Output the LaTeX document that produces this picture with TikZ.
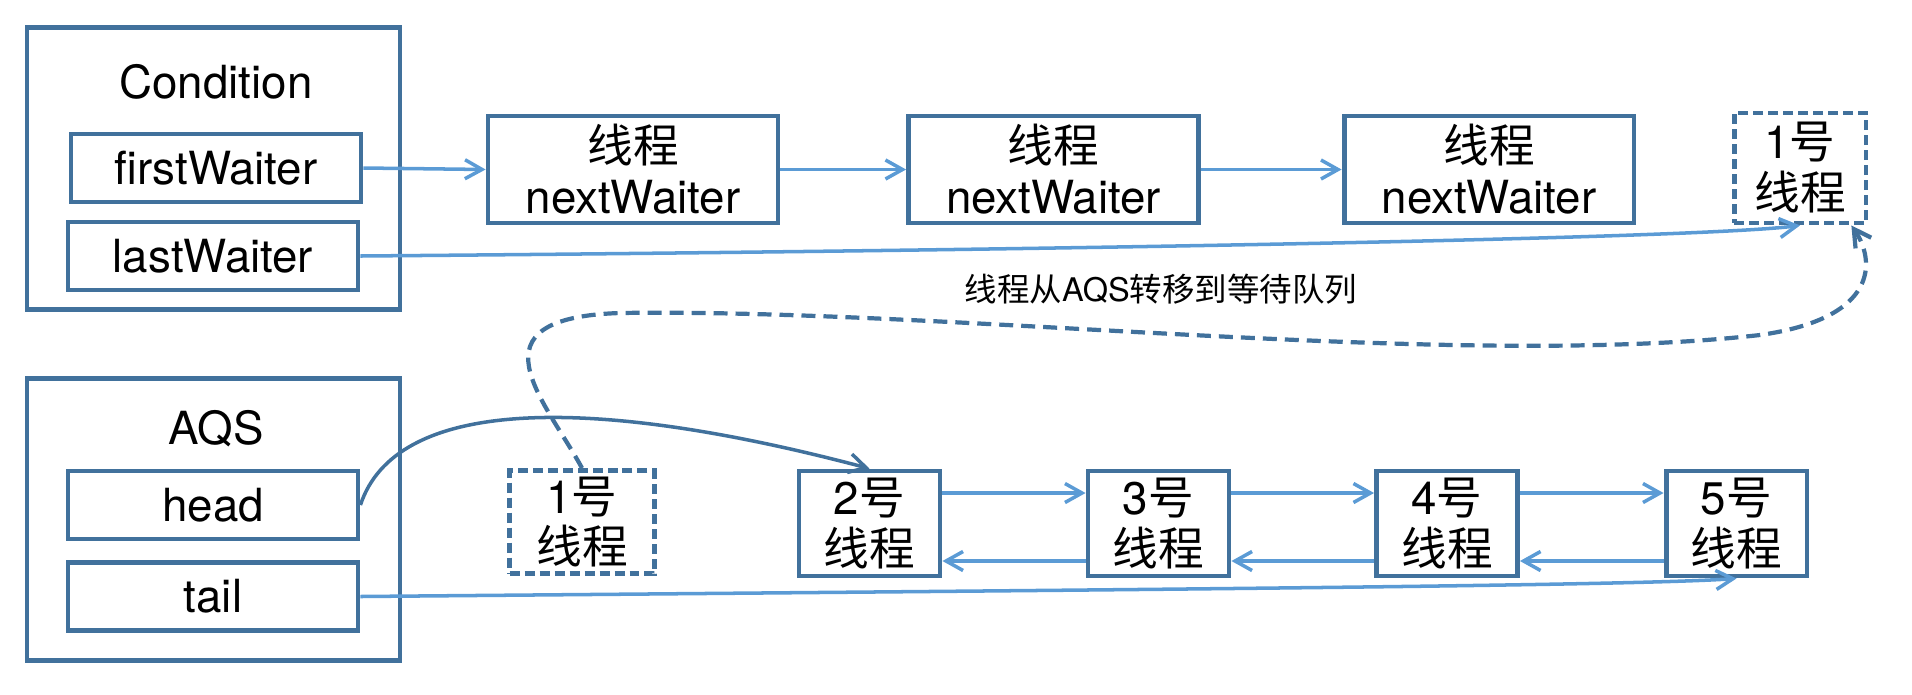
\documentclass[tikz,border=0pt]{standalone}
\usepackage{fontspec}
\setmainfont{TeX Gyre Heros}
\newfontfamily\cjk{Noto Sans CJK SC}
\usetikzlibrary{arrows.meta,calc}
\definecolor{boxblue}{RGB}{65,113,156}
\definecolor{lineblue}{RGB}{91,155,213}

\begin{document}
\begin{tikzpicture}[x=0.02cm, y=-0.02cm,
  box/.style={draw=boxblue, line width=2.8pt, align=center, inner sep=0pt,
    font=\fontsize{26}{29}\selectfont},
  outer/.style={box, minimum width=7.46cm, minimum height=5.64cm},
  field/.style={box, minimum width=5.8cm, minimum height=1.36cm},
  waiter/.style={box, minimum width=5.8cm, minimum height=2.14cm},
  thread/.style={box, minimum width=2.82cm, minimum height=2.1cm},
  moved/.style={thread, dash pattern=on 0.2cm off 0.1cm},
  link/.style={draw=lineblue, line width=2pt,
    -{Straight Barb[length=3.4mm,width=3.8mm]}},
  darklink/.style={link, draw=boxblue}]
\useasboundingbox (0,0) rectangle (1912,694);

% Condition side
\node [outer] (cond) at (213.5,168.5) {};
\node [font=\fontsize{26}{29}\selectfont] (condlbl) at (216,82) {Condition};
\node [field] (fw) at (216,168) {firstWaiter};
\node [field] (lw) at (213,256) {lastWaiter};

\node [waiter] (t1) at (633,169.5) {{\cjk 线程}\\nextWaiter};
\node [waiter] (t2) at (1053.5,169.5) {{\cjk 线程}\\nextWaiter};
\node [waiter] (t3) at (1489,169.5) {{\cjk 线程}\\nextWaiter};
\node [moved, minimum width=2.64cm, minimum height=2.2cm] (w1) at (1800,168) {1{\cjk 号}\\{\cjk 线程}};

% AQS side
\node [outer] (aqs) at (213.5,519.5) {};
\node [font=\fontsize{26}{29}\selectfont] (aqslbl) at (216,429) {AQS};
\node [field] (hd) at (213,505) {head};
\node [field] (tl) at (213,596.5) {tail};

\node [moved, minimum width=2.9cm, minimum height=2.06cm] (b1) at (582,522) {1{\cjk 号}\\{\cjk 线程}};
\node [thread] (n2) at (869.5,523.5) {2{\cjk 号}\\{\cjk 线程}};
\node [thread] (n3) at (1158.5,523.5) {3{\cjk 号}\\{\cjk 线程}};
\node [thread] (n4) at (1447,523.5) {4{\cjk 号}\\{\cjk 线程}};
\node [thread] (n5) at (1736.5,523.5) {5{\cjk 号}\\{\cjk 线程}};

\node [font=\fontsize{18.5}{22}\selectfont] (movelbl) at (1161,289) {{\cjk 线程从}AQS{\cjk 转移到等待队列}};

% waiter chain
\draw [link] (fw.east) -- (t1.west);
\draw [link] (t1.east) -- (t2.west);
\draw [link] (t2.east) -- (t3.west);
\draw [link] (lw.east) .. controls (1100,250) and (1700,238) .. (w1.south);

% sync queue
\draw [darklink] (hd.east) .. controls (395,400) and (580,392) .. (n2.north);
\draw [link] (tl.east) .. controls (1100,590) and (1630,586) .. (n5.south);
\draw [link] ([yshift=0.61cm]n2.east) -- ([yshift=0.61cm]n3.west);
\draw [link] ([yshift=0.61cm]n3.east) -- ([yshift=0.61cm]n4.west);
\draw [link] ([yshift=0.61cm]n4.east) -- ([yshift=0.61cm]n5.west);
\draw [link] ([yshift=-0.75cm]n3.west) -- ([yshift=-0.75cm]n2.east);
\draw [link] ([yshift=-0.75cm]n4.west) -- ([yshift=-0.75cm]n3.east);
\draw [link] ([yshift=-0.75cm]n5.west) -- ([yshift=-0.75cm]n4.east);

% moved to condition queue
\draw [darklink, line width=2.4pt, dash pattern=on 0.28cm off 0.16cm]
  (b1.north) .. controls (545,400) and (465,318) .. (620,313)
  .. controls (950,308) and (1450,370) .. (1760,335)
  .. controls (1880,318) and (1875,260) .. ($(w1.south)!0.75!(w1.south east)$);
\end{tikzpicture}
\end{document}
